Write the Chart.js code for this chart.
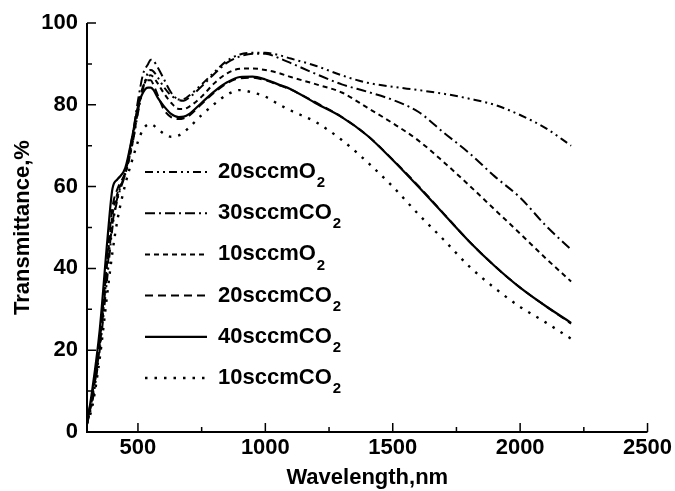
<!DOCTYPE html>
<html>
<head>
<meta charset="utf-8">
<script src="https://cdn.jsdelivr.net/npm/chart.js@4.4.1/dist/chart.umd.min.js"></script>
<style>
html,body{margin:0;padding:0;background:#fff;}
#wrap{width:675px;height:491px;position:relative;}
canvas{display:block;}
</style>
</head>
<body>
<div id="wrap"><canvas id="c" width="675" height="491"></canvas></div>
<script>
// ---- data ----
const wavelengths = [300,320,350,380,400,420,450,480,500,520,540,550,560,580,600,630,660,680,700,750,800,850,900,950,1000,1050,1100,1200,1300,1400,1500,1600,1700,1800,1900,2000,2100,2200];

const o2_20  = [2,7,20,38,50,57,63,71,78,84,88,88.5,88.2,86.5,84.5,82.3,81.3,81.4,82.2,85,88,90.8,92.3,92.7,92.7,92.2,91.3,89.5,87.2,85.4,84.4,83.6,82.7,81.5,80,77.5,74.3,70];
const co2_30 = [2.5,8,21,40,51,57.5,63.5,73,81,87.5,90,91,90.8,88.9,86.5,83,81.2,81,81.7,84.5,87.6,90.3,91.8,92.5,92.5,91.5,90.2,87.5,85,83.2,81.2,78.3,73.2,68.2,62.5,57.3,50.5,44.6];
const o2_10  = [3,9,22,42,53,58.5,63,71,78.5,84,87,87.2,86.8,85,83,80.5,79,79,79.5,82,85.3,87.7,88.8,88.9,88.5,87.8,86.8,85,83,79.3,75.5,71.3,66,60.3,54.4,48.5,42.5,36.8];
const co2_20 = [2,8,22,43,55,59.5,63.5,72,79.5,84.5,86,86,85,82,79,77,76.5,76.7,77.3,80.2,83,85.3,86.5,86.6,86,84.9,83.7,80.5,77,72.5,66.6,60.2,53.4,46.6,40.6,35.3,30.8,26.5];
const co2_40 = [2,10,25,47,59.5,61.8,64.5,73,79.5,83,84.2,84.2,83.7,81.5,79.8,77.8,77,77.1,77.7,80.5,83.3,85.5,86.8,86.9,86.2,85,83.8,80.3,77,72.5,66.5,60,53.3,46.6,40.6,35.3,30.8,26.7];
const co2_10 = [2,6,18,34,44,52,60.5,67,71,74,75.2,75.3,75,74,73,72.2,72.5,73.3,74.4,77.5,80.2,82.5,83.6,83,82,80.2,78.6,75.7,71.4,66,60,53.3,47,40.5,35.2,30.6,26.8,22.8];

const seriesMain = ['20sccmO','30sccmCO','10sccmO','20sccmCO','40sccmCO','10sccmCO'];
const seriesSub  = ['2','2','2','2','2','2'];

const xTickValues  = [500,1000,1500,2000,2500];
const xMinorValues = [750,1250,1750,2250];
const yTickValues  = [0,20,40,60,80,100];
const yMinorValues = [10,30,50,70,90];

// ---- styles ----
const FONT = "'Liberation Sans', Arial, Helvetica, sans-serif";
const seriesValues = [o2_20, co2_30, o2_10, co2_20, co2_40, co2_10];
const dashes = [[8,4,2,4,2,4],[10,4,2,4],[5,4],[8,5],[],[2.5,7]];
const widths = [2,2,2,2,2.2,2.4];

const datasets = seriesValues.map((vals,i) => ({
  label: seriesMain[i] + seriesSub[i],
  data: wavelengths.map((w,k) => ({x:w, y:vals[k]})),
  borderColor: '#000',
  borderWidth: widths[i],
  borderDash: dashes[i],
  pointRadius: 0,
  fill: false,
  cubicInterpolationMode: 'monotone'
}));

const axesPlugin = {
  id: 'axesPlugin',
  afterDraw(chart) {
    const ctx = chart.ctx, a = chart.chartArea;
    const xs = chart.scales.x, ys = chart.scales.y;
    ctx.save();
    ctx.strokeStyle = '#000';
    ctx.lineWidth = 2;
    ctx.setLineDash([]);
    ctx.beginPath();
    ctx.moveTo(a.left, a.top); ctx.lineTo(a.left, a.bottom); ctx.lineTo(a.right, a.bottom);
    ctx.stroke();
    ctx.lineWidth = 1.5;
    ctx.beginPath();
    xTickValues.forEach(v => { const p = xs.getPixelForValue(v); ctx.moveTo(p, a.bottom); ctx.lineTo(p, a.bottom - 9); });
    xMinorValues.forEach(v => { const p = xs.getPixelForValue(v); ctx.moveTo(p, a.bottom); ctx.lineTo(p, a.bottom - 5); });
    yTickValues.forEach(v => { const p = ys.getPixelForValue(v); ctx.moveTo(a.left, p); ctx.lineTo(a.left + 9, p); });
    yMinorValues.forEach(v => { const p = ys.getPixelForValue(v); ctx.moveTo(a.left, p); ctx.lineTo(a.left + 5, p); });
    ctx.stroke();
    ctx.restore();
  }
};

const legendPlugin = {
  id: 'inlineLegend',
  afterDatasetsDraw(chart) {
    const ctx = chart.ctx, a = chart.chartArea;
    chart.data.datasets.forEach((ds,i) => {
      const y = 172 + i * 41.2;
      const x0 = a.left + 58, x1 = a.left + 120, tx = a.left + 131;
      ctx.save();
      ctx.strokeStyle = '#000';
      ctx.lineWidth = ds.borderWidth;
      ctx.setLineDash(ds.borderDash || []);
      ctx.beginPath(); ctx.moveTo(x0, y); ctx.lineTo(x1, y); ctx.stroke();
      ctx.setLineDash([]);
      ctx.fillStyle = '#000';
      ctx.textBaseline = 'middle';
      ctx.font = 'bold 22px ' + FONT;
      ctx.fillText(seriesMain[i], tx, y);
      const w = ctx.measureText(seriesMain[i]).width;
      ctx.font = 'bold 15px ' + FONT;
      ctx.fillText(seriesSub[i], tx + w + 1, y + 11);
      ctx.restore();
    });
  }
};

new Chart(document.getElementById('c'), {
  type: 'line',
  data: { datasets },
  options: {
    responsive: false,
    animation: false,
    devicePixelRatio: 1,
    layout: { padding: { top: 23, right: 27, left: 0, bottom: 0 } },
    plugins: { legend: { display: false }, tooltip: { enabled: false } },
    scales: {
      x: {
        type: 'linear', min: 300, max: 2500,
        afterBuildTicks: s => { s.ticks = xTickValues.map(v => ({ value: v })); },
        afterFit: s => { s.height = 59; },
        grid: { display: false, drawTicks: false },
        border: { display: false },
        ticks: { color: '#000', font: { family: FONT, size: 22, weight: 'bold' }, padding: 3, maxRotation: 0, autoSkip: false, callback: v => String(v) },
        title: { display: true, text: 'Wavelength,nm', color: '#000', font: { family: FONT, size: 22, weight: 'bold' }, padding: { top: 0, bottom: 0 } }
      },
      y: {
        type: 'linear', min: 0, max: 100,
        afterBuildTicks: s => { s.ticks = yTickValues.map(v => ({ value: v })); },
        afterFit: s => { s.width = 87; },
        grid: { display: false, drawTicks: false },
        border: { display: false },
        ticks: { color: '#000', font: { family: FONT, size: 22, weight: 'bold' }, padding: 9, autoSkip: false, callback: v => String(v) },
        title: { display: true, text: 'Transmittance,%', color: '#000', font: { family: FONT, size: 22, weight: 'bold' }, padding: { top: 10, bottom: 0 } }
      }
    }
  },
  plugins: [axesPlugin, legendPlugin]
});
</script>
</body>
</html>
